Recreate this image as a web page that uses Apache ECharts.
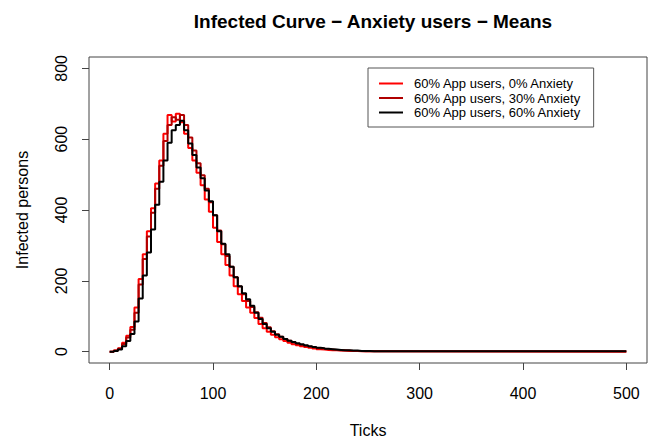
<!DOCTYPE html>
<html>
<head>
<meta charset="utf-8">
<script src="https://cdn.jsdelivr.net/npm/echarts@6/dist/echarts.min.js"></script>
<style>html,body{margin:0;padding:0;background:#fff;}#c{width:650px;height:441px;}</style>
</head>
<body>
<div id="c"></div>
<script>
const ticks = [0,4,8,12,16,20,24,28,32,36,40,44,48,52,56,60,64,68,72,76,80,84,88,92,96,100,104,108,112,116,120,124,128,132,136,140,144,148,152,156,160,164,168,172,176,180,184,188,192,196,200,204,208,212,216,220,224,228,232,236,240,244,248,252,256,260,500];
const anx0 = [0,3,10,25,45,70,125,205,275,340,405,475,540,615,668,650,672,648,615,575,540,505,470,430,395,350,310,275,245,215,185,162,143,125,110,95,78,66,56,48,41,35,30,25,21,18,15,13,11,9,7,6,5,4,4,3,3,2,2,2,1,1,1,1,1,0,0];
const anx30 = [0,3,8,22,40,62,110,190,262,325,392,460,525,595,640,662,655,668,640,605,568,532,498,460,422,385,342,303,270,240,210,184,162,143,126,111,96,81,69,58,49,42,36,31,26,22,19,16,14,12,10,8,7,6,5,4,3,3,2,2,2,1,1,1,1,1,0];
const anx60 = [0,2,6,15,30,50,85,150,215,280,345,415,480,540,590,625,640,652,625,588,555,520,490,455,425,385,340,305,275,240,210,185,165,148,130,110,92,78,66,56,48,42,36,31,27,24,21,18,15,13,11,10,8,7,6,5,4,4,3,3,2,2,2,1,1,1,1];
const seriesNames = ['60% App users, 0% Anxiety','60% App users, 30% Anxiety','60% App users, 60% Anxiety'];
const seriesColors = ['#ff0000','#b00000','#000000'];
const xTickLabels = [0,100,200,300,400,500];
const yTickLabels = [0,200,400,600,800];

const chart = echarts.init(document.getElementById('c'), null, {renderer:'svg'});
const font = 'Liberation Sans, Arial, Helvetica, sans-serif';
const pairs = vals => ticks.map((t,i)=>[t, vals[i]]);
const allVals = [anx0, anx30, anx60];
chart.setOption({
  animation:false,
  backgroundColor:'#fff',
  textStyle:{fontFamily:font},
  title:{
    text:'Infected Curve \u2212 Anxiety users \u2212 Means',
    left:368, top:7, textAlign:'center',
    textStyle:{fontSize:19,fontWeight:'bold',color:'#000',fontFamily:font}
  },
  grid:{left:89,top:57,right:3,bottom:78,show:true,borderColor:'#444',borderWidth:1,backgroundColor:'transparent',outerBoundsMode:'none'},
  legend:{
    orient:'vertical', left:368, top:68,
    borderColor:'#555', borderWidth:1,
    padding:[9,12,8,11], itemGap:1.5, itemWidth:24, itemHeight:2, icon:'rect',
    textStyle:{fontSize:13,color:'#000',fontFamily:font,padding:[0,0,0,6]},
    data:seriesNames.map((n,i)=>({name:n,itemStyle:{color:seriesColors[i]}}))
  },
  xAxis:{
    type:'value', min:-20, max:520,
    name:'Ticks', nameLocation:'middle', nameGap:59,
    nameTextStyle:{fontSize:16,color:'#000',fontFamily:font},
    axisLine:{show:false,onZero:false},
    axisTick:{show:true,length:7,lineStyle:{color:'#444'},customValues:xTickLabels},
    axisLabel:{fontSize:16,color:'#000',margin:22,customValues:xTickLabels,fontFamily:font},
    splitLine:{show:false}
  },
  yAxis:{
    type:'value', min:-32, max:832,
    name:'Infected persons', nameLocation:'middle', nameGap:59, nameRotate:90,
    nameTextStyle:{fontSize:16,color:'#000',fontFamily:font},
    axisLine:{show:false,onZero:false},
    axisTick:{show:true,length:7,lineStyle:{color:'#444'},customValues:yTickLabels},
    axisLabel:{fontSize:16,color:'#000',margin:20,rotate:90,customValues:yTickLabels,fontFamily:font},
    splitLine:{show:false}
  },
  series: allVals.map((v,i)=>({
    name:seriesNames[i], type:'line', step:'end', data:pairs(v),
    showSymbol:false, symbol:'none', color:seriesColors[i],
    lineStyle:{width:2,color:seriesColors[i]}, z:2+i, silent:true
  }))
});
</script>
</body>
</html>
